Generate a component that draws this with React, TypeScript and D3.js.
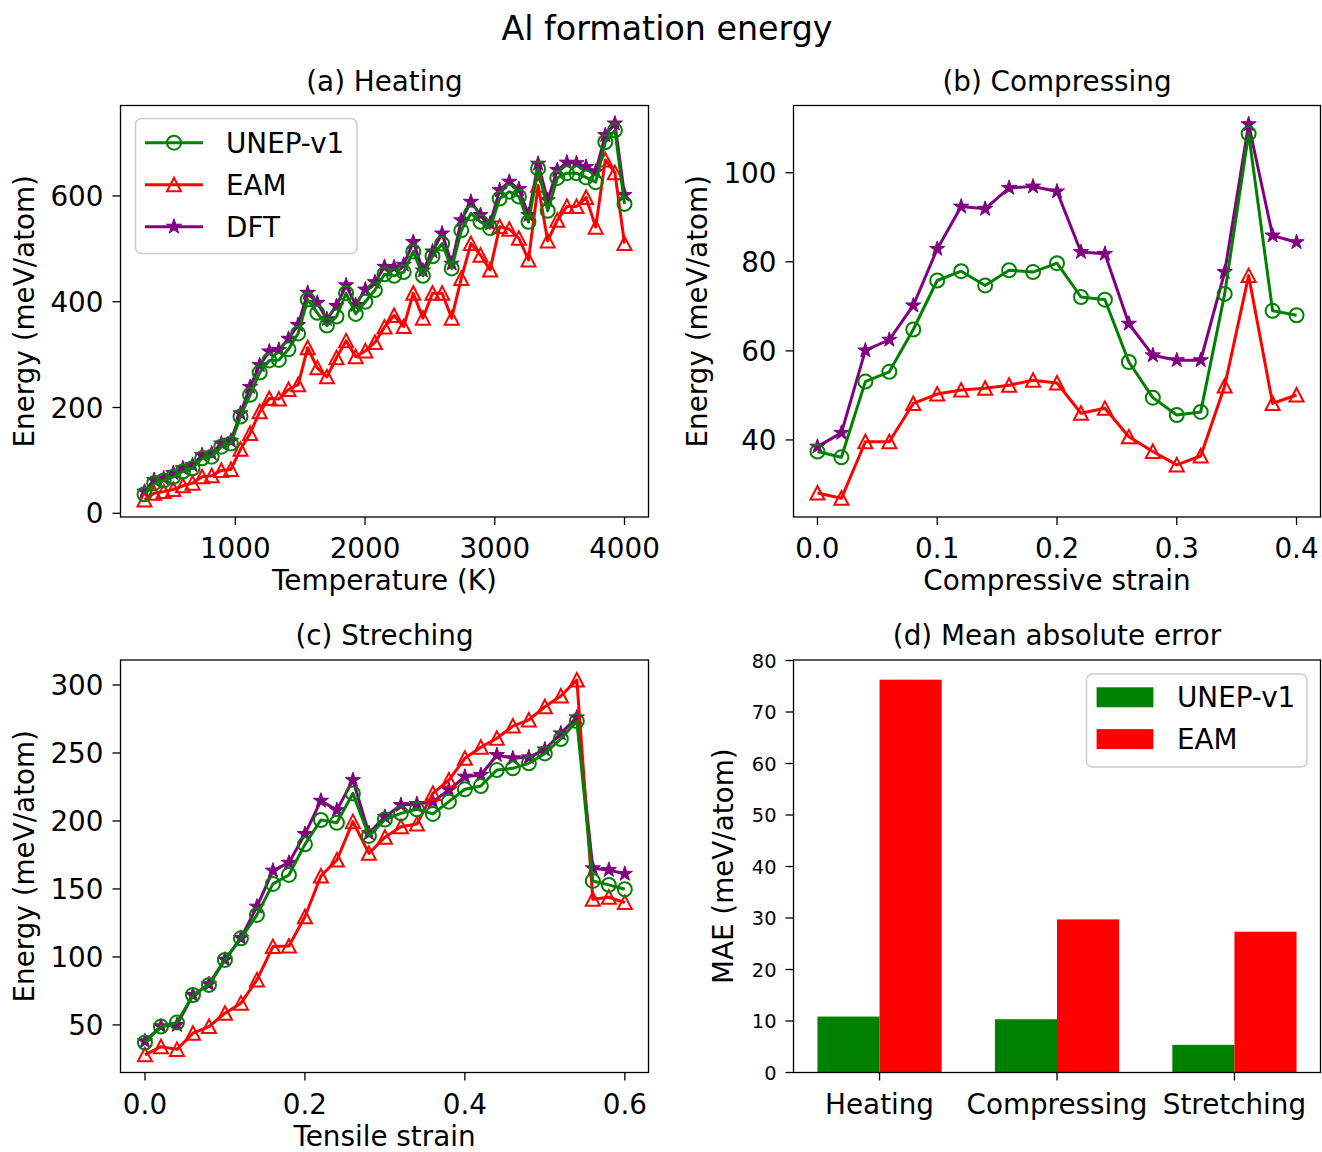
import React from 'react';
import * as d3 from 'd3';

// (a) Heating
const heatT = [300, 374, 448, 522, 596, 670, 744, 818, 892, 966, 1040, 1114, 1188, 1262, 1336, 1410, 1484,
    1558, 1632, 1706, 1780, 1854, 1928, 2002, 2076, 2150, 2224, 2298, 2372, 2446, 2520, 2594, 2668, 2742,
    2816, 2890, 2964, 3038, 3112, 3186, 3260, 3334, 3408, 3482, 3556, 3630, 3704, 3778, 3852, 3926, 4000];
const heatUnep = [36, 57, 62, 69, 79, 85, 104, 107, 126, 132, 183, 224, 266, 289, 290, 310, 340, 404, 379, 355,
    372, 416, 377, 400, 422, 452, 449, 456, 495, 449, 486, 510, 463, 535, 567, 551, 539, 595, 608, 599, 551,
    652, 572, 634, 643, 643, 635, 626, 702, 724, 585];
const heatEam = [25, 38, 41, 45, 52, 57, 69, 71, 81, 83, 121, 151, 192, 217, 216, 234, 243, 313, 275, 258,
    294, 326, 296, 307, 323, 352, 374, 353, 416, 369, 416, 416, 369, 444, 510, 488, 460, 542, 537, 520, 479,
    620, 515, 554, 580, 580, 597, 541, 668, 644, 510];
const heatDft = [41, 63, 66, 76, 85, 91, 110, 113, 132, 137, 189, 239, 280, 306, 309, 330, 356, 417, 398, 367,
    392, 431, 394, 423, 437, 466, 465, 470, 513, 459, 495, 529, 472, 554, 589, 564, 548, 611, 627, 613, 564,
    661, 592, 649, 663, 662, 655, 646, 715, 737, 602];

// (b) Compressing
const compStrain = [0, 0.02, 0.04, 0.06, 0.08, 0.1, 0.12, 0.14, 0.16, 0.18, 0.2, 0.22, 0.24, 0.26, 0.28, 0.3,
    0.32, 0.34, 0.36, 0.38, 0.4];
const compUnep = [37.4, 36.1, 53.1, 55.3, 64.8, 75.8, 77.9, 74.7, 78.1, 77.7, 79.7, 72.1, 71.5, 57.5, 49.5,
    45.6, 46.3, 72.8, 108.8, 69.0, 68.0];
const compEam = [28.1, 26.9, 39.6, 39.6, 48.2, 50.3, 51.2, 51.6, 52.3, 53.4, 52.8, 46.0, 47.1, 40.7, 37.4,
    34.4, 36.4, 52.1, 76.9, 48.2, 50.1];
const compDft = [38.5, 41.6, 60.1, 62.5, 70.2, 82.9, 92.4, 91.9, 96.6, 96.9, 95.8, 82.2, 81.8, 66.1, 59.0,
    57.9, 57.9, 77.7, 110.9, 85.9, 84.4];

// (c) Streching
const tensStrain = [0, 0.02, 0.04, 0.06, 0.08, 0.1, 0.12, 0.14, 0.16, 0.18, 0.2, 0.22, 0.24, 0.26, 0.28, 0.3,
    0.32, 0.34, 0.36, 0.38, 0.4, 0.42, 0.44, 0.46, 0.48, 0.5, 0.52, 0.54, 0.56, 0.58, 0.6];
const tensUnep = [37, 48.8, 51.7, 72, 79.4, 97.8, 113.7, 130.9, 153.7, 160.3, 182.8, 200.7, 198.7, 220.3,
    189, 201, 205.6, 208.6, 205.2, 214.2, 223.3, 225.7, 237.5, 238.7, 242.4, 249.7, 260.3, 273.5, 155.9,
    153, 149.8];
const tensEam = [28, 34, 32, 43.9, 48.8, 58.6, 66, 83.1, 107.6, 108, 129.6, 159.5, 171.3, 199.5, 176.2, 188,
    195.8, 197.7, 220.3, 230.1, 246.1, 254.2, 260.8, 269.8, 274.3, 284, 291.9, 303.7, 142.4, 143.9, 140];
const tensDft = [38, 49, 50, 72, 80, 98, 114, 137, 163.5, 169.3, 190.4, 214.9, 208, 230.1, 191, 203, 211.7,
    212.5, 214.2, 222.8, 232.6, 233.8, 248.5, 246.1, 246.8, 252.6, 264.4, 276.2, 165.2, 164, 161.1];

// (d) Mean absolute error
const maeCats = ['Heating', 'Compressing', 'Stretching'];
const maeUnep = [10.86, 10.34, 5.37];
const maeEam = [76.28, 29.73, 27.34];

const FONT = '"DejaVu Sans", sans-serif';
const FS = 27.8;
const GREEN = '#008000';
const RED = '#ff0000';
const PURPLE = '#800080';

const starPath = (r: number) => {
    const pts = d3.range(10).map(k => {
        const a = -Math.PI / 2 + k * Math.PI / 5;
        const rr = k % 2 === 0 ? r : r * 0.382;
        return [rr * Math.cos(a), rr * Math.sin(a)];
    });
    return 'M' + pts.map(p => p[0].toFixed(2) + ',' + p[1].toFixed(2)).join('L') + 'Z';
};

const Marker = ({ kind, color, x, y }: any) => {
    if (kind === 'circle')
        return <circle cx={x} cy={y} r={7} fill="none" stroke={color} strokeWidth={2} />;
    if (kind === 'triangle')
        return <path d="M0,-7L-7,6.5L7,6.5Z" transform={`translate(${x},${y})`} fill="none" stroke={color} strokeWidth={2} />;
    return <path d={starPath(8)} transform={`translate(${x},${y})`} fill={color} stroke={color} strokeWidth={1} />;
};

type Box = { l: number; r: number; t: number; b: number };

const Frame = ({ box }: { box: Box }) => (
    <rect x={box.l} y={box.t} width={box.r - box.l} height={box.b - box.t} fill="none" stroke="#000" strokeWidth={1.3} />
);

const LinePanel = ({ box, xs, unep, eam, dft, xDomain, yDomain, xTicks, yTicks, xFmt, title, xLabel, legend }: any) => {
    const x = d3.scaleLinear().domain(xDomain).range([box.l, box.r]);
    const y = d3.scaleLinear().domain(yDomain).range([box.b, box.t]);
    const line = d3.line<number>().x((_, i) => x(xs[i])).y(d => y(d));
    const series = [
        { name: 'UNEP-v1', values: unep, color: GREEN, kind: 'circle' },
        { name: 'EAM', values: eam, color: RED, kind: 'triangle' },
        { name: 'DFT', values: dft, color: PURPLE, kind: 'star' },
    ];
    const drawOrder = [series[2], series[1], series[0]];
    const cx = (box.l + box.r) / 2;
    return (
        <g>
            {drawOrder.map(s => (
                <g key={s.name}>
                    <path d={line(s.values) || ''} fill="none" stroke={s.color} strokeWidth={3} strokeLinejoin="round" />
                    {s.values.map((v: number, i: number) => (
                        <Marker key={i} kind={s.kind} color={s.color} x={x(xs[i])} y={y(v)} />
                    ))}
                </g>
            ))}
            <Frame box={box} />
            {xTicks.map((t: number) => (
                <g key={'x' + t}>
                    <line x1={x(t)} x2={x(t)} y1={box.b} y2={box.b + 8} stroke="#000" strokeWidth={1.3} />
                    <text x={x(t)} y={box.b + 41} textAnchor="middle" fontSize={FS}>{xFmt(t)}</text>
                </g>
            ))}
            {yTicks.map((t: number) => (
                <g key={'y' + t}>
                    <line x1={box.l - 8} x2={box.l} y1={y(t)} y2={y(t)} stroke="#000" strokeWidth={1.3} />
                    <text x={box.l - 17} y={y(t) + 10} textAnchor="end" fontSize={FS}>{t}</text>
                </g>
            ))}
            <text x={cx} y={box.t - 15} textAnchor="middle" fontSize={FS}>{title}</text>
            <text x={cx} y={box.b + 73} textAnchor="middle" fontSize={FS}>{xLabel}</text>
            <text transform={`translate(${box.l - 87},${(box.t + box.b) / 2}) rotate(-90)`} textAnchor="middle" fontSize={FS}>Energy (meV/atom)</text>
            {legend && (
                <g>
                    <rect x={135.5} y={118.5} width={221.5} height={135} rx={6} fill="#fff" fillOpacity={0.8} stroke="#cccccc" strokeWidth={1.5} />
                    {series.map((s, k) => {
                        const ry = 142.7 + k * 42;
                        return (
                            <g key={s.name}>
                                <line x1={145} x2={203} y1={ry} y2={ry} stroke={s.color} strokeWidth={3} />
                                <Marker kind={s.kind} color={s.color} x={174} y={ry} />
                                <text x={226} y={ry + 10} fontSize={FS}>{s.name}</text>
                            </g>
                        );
                    })}
                </g>
            )}
        </g>
    );
};

const BarPanel = ({ box }: { box: Box }) => {
    const x = d3.scaleLinear().domain([-0.485, 2.485]).range([box.l, box.r]);
    const y = d3.scaleLinear().domain([0, 80.1]).range([box.b, box.t]);
    const w = 0.35;
    const cx = (box.l + box.r) / 2;
    const yTicks = d3.range(0, 81, 10);
    return (
        <g>
            {maeCats.map((c, i) => (
                <g key={c}>
                    <rect x={x(i - w)} y={y(maeUnep[i])} width={x(i) - x(i - w)} height={y(0) - y(maeUnep[i])} fill={GREEN} />
                    <rect x={x(i)} y={y(maeEam[i])} width={x(i + w) - x(i)} height={y(0) - y(maeEam[i])} fill={RED} />
                </g>
            ))}
            <Frame box={box} />
            {maeCats.map((c, i) => (
                <g key={'t' + c}>
                    <line x1={x(i)} x2={x(i)} y1={box.b} y2={box.b + 8} stroke="#000" strokeWidth={1.3} />
                    <text x={x(i)} y={box.b + 41} textAnchor="middle" fontSize={FS}>{c}</text>
                </g>
            ))}
            {yTicks.map(t => (
                <g key={'y' + t}>
                    <line x1={box.l - 8} x2={box.l} y1={y(t)} y2={y(t)} stroke="#000" strokeWidth={1.3} />
                    <text x={box.l - 17} y={y(t) + 7} textAnchor="end" fontSize={19.4}>{t}</text>
                </g>
            ))}
            <text x={cx} y={box.t - 15} textAnchor="middle" fontSize={FS}>(d) Mean absolute error</text>
            <text transform={`translate(${box.l - 61},${(box.t + box.b) / 2}) rotate(-90)`} textAnchor="middle" fontSize={FS}>MAE (meV/atom)</text>
            <rect x={1086.5} y={674} width={220.5} height={93} rx={6} fill="#fff" fillOpacity={0.8} stroke="#cccccc" strokeWidth={1.5} />
            {[{ name: 'UNEP-v1', color: GREEN }, { name: 'EAM', color: RED }].map((s, k) => {
                const ry = 697.3 + k * 41.8;
                return (
                    <g key={s.name}>
                        <rect x={1096.6} y={ry - 10} width={56.8} height={20} fill={s.color} />
                        <text x={1177} y={ry + 10} fontSize={FS}>{s.name}</text>
                    </g>
                );
            })}
        </g>
    );
};

export default function App() {
    const boxA = { l: 120.5, r: 648.5, t: 105.5, b: 517 };
    const boxB = { l: 793.5, r: 1320.5, t: 105.5, b: 517 };
    const boxC = { l: 120.5, r: 648.5, t: 660, b: 1072.5 };
    const boxD = { l: 793.5, r: 1320.5, t: 660, b: 1072.5 };
    return (
        <svg width={1322} height={1152} style={{ position: 'absolute', left: 0, top: 0, background: '#fff' }}
            fontFamily={FONT} fill="#000">
            <rect width={1322} height={1152} fill="#fff" />
            <text x={667} y={40} textAnchor="middle" fontSize={33.3}>Al formation energy</text>
            <LinePanel box={boxA} xs={heatT} unep={heatUnep} eam={heatEam} dft={heatDft}
                xDomain={[115, 4185]} yDomain={[-7, 771]} xTicks={[1000, 2000, 3000, 4000]} yTicks={[0, 200, 400, 600]}
                xFmt={(t: number) => String(t)} title="(a) Heating" xLabel="Temperature (K)" legend />
            <LinePanel box={boxB} xs={compStrain} unep={compUnep} eam={compEam} dft={compDft}
                xDomain={[-0.02, 0.42]} yDomain={[22.7, 115.1]} xTicks={[0, 0.1, 0.2, 0.3, 0.4]} yTicks={[40, 60, 80, 100]}
                xFmt={(t: number) => t.toFixed(1)} title="(b) Compressing" xLabel="Compressive strain" />
            <LinePanel box={boxC} xs={tensStrain} unep={tensUnep} eam={tensEam} dft={tensDft}
                xDomain={[-0.0306, 0.6296]} yDomain={[15, 318.4]} xTicks={[0, 0.2, 0.4, 0.6]} yTicks={[50, 100, 150, 200, 250, 300]}
                xFmt={(t: number) => t.toFixed(1)} title="(c) Streching" xLabel="Tensile strain" />
            <BarPanel box={boxD} />
        </svg>
    );
}
